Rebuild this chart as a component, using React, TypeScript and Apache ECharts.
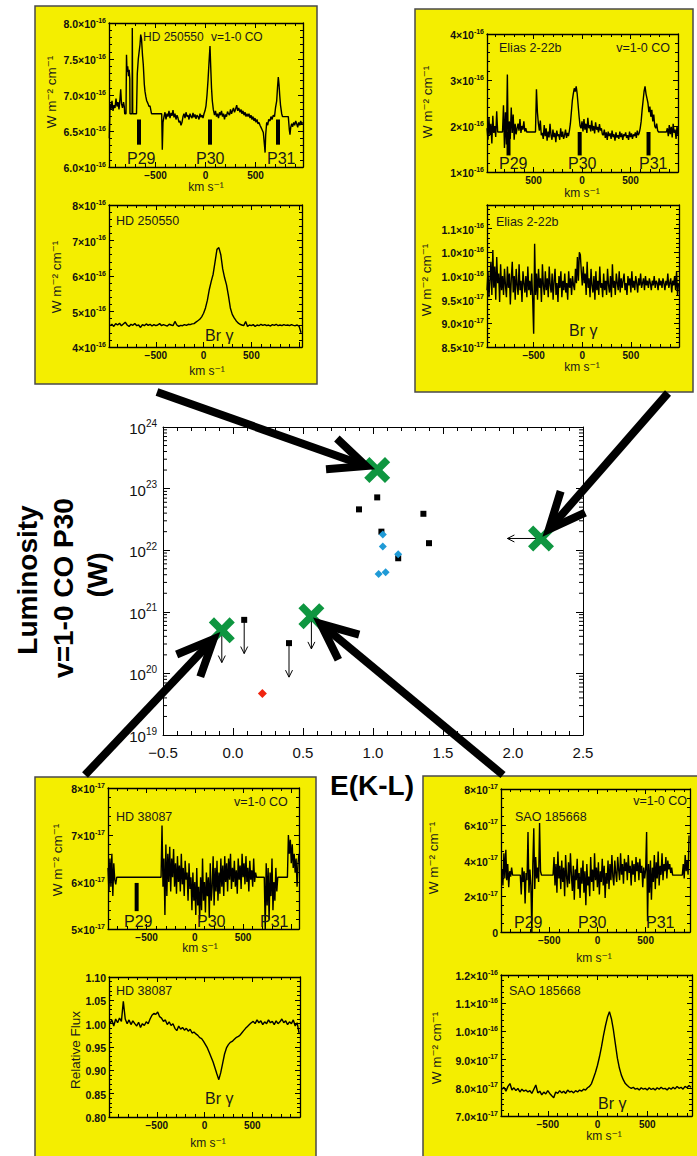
import React, { useEffect, useRef } from "react";
import * as echarts from "echarts";

// ---------------- main diagram data: E(K-L) vs luminosity (W) ----------------
const greenX = [[1.03, 2.0e23], [2.2, 1.55e22], [-0.08, 5.0e20], [0.56, 8.5e20]];
const blackPts = [[0.9, 4.6e22], [1.03, 7.2e22], [1.06, 2.0e22], [1.18, 7.4e21], [1.36, 3.9e22], [1.40, 1.3e22], [0.08, 7.4e20], [0.40, 3.1e20]];
const bluePts = [[1.07, 1.8e22], [1.07, 1.15e22], [1.04, 4.1e21], [1.09, 4.4e21], [1.18, 8.6e21]];
const redPts = [[0.21, 4.7e19]];
// upper limits: [x, y, arrow end y]
const upperLimits = [[-0.08, 5.0e20, 1.5e20], [0.56, 8.5e20, 2.5e20], [0.08, 7.4e20, 2.1e20], [0.40, 3.1e20, 8.7e19]];
// left limits: [x, y, arrow end x]
const leftLimits = [[2.2, 1.55e22, 1.96]];

// ---------------- spectra ----------------
// HD 250550 v=1-0 CO  [km/s, 1e-16 W m-2 cm-1]
const hd250550CO = [[-962,6.40],[-955,6.88],[-945,6.80],[-935,6.92],[-925,6.78],[-915,6.86],[-905,6.82],[-895,6.95],[-885,6.84],[-875,6.90],[-865,6.80],[-855,6.95],[-848,7.08],[-840,6.88],[-830,6.82],[-820,6.90],[-812,6.84],[-808,6.74],[-795,6.74],[-790,7.56],[-785,7.32],[-778,7.40],[-770,7.26],[-763,7.35],[-757,7.22],[-755,6.74],[-734,6.74],[-732,7.93],[-728,6.74],[-690,6.74],[-682,7.30],[-672,7.50],[-662,7.62],[-655,7.70],[-648,7.84],[-640,7.78],[-630,7.55],[-622,7.42],[-612,7.15],[-605,7.05],[-597,6.98],[-588,6.92],[-575,6.88],[-565,6.84],[-555,6.85],[-540,6.74],[-438,6.74],[-432,6.24],[-425,6.62],[-415,6.70],[-405,6.76],[-395,6.66],[-385,6.74],[-375,6.70],[-365,6.78],[-355,6.68],[-345,6.75],[-335,6.71],[-325,6.79],[-315,6.69],[-305,6.74],[-295,6.66],[-285,6.72],[-275,6.68],[-265,6.62],[-255,6.64],[-245,6.58],[-235,6.62],[-225,6.70],[-215,6.74],[-205,6.68],[-195,6.76],[-185,6.70],[-175,6.72],[-165,6.66],[-155,6.74],[-145,6.70],[-135,6.68],[-125,6.75],[-115,6.69],[-105,6.73],[-95,6.67],[-85,6.72],[-75,6.70],[-65,6.66],[-55,6.74],[-45,6.69],[-35,6.72],[-25,6.68],[-15,6.74],[-5,6.78],[5,6.85],[15,7.00],[25,7.20],[35,7.45],[45,7.68],[52,7.40],[60,7.10],[68,6.92],[78,6.80],[90,6.72],[100,6.78],[110,6.70],[120,6.74],[130,6.68],[140,6.76],[150,6.72],[160,6.78],[170,6.70],[180,6.74],[190,6.66],[200,6.73],[210,6.70],[220,6.77],[230,6.74],[240,6.72],[250,6.80],[260,6.74],[270,6.78],[280,6.82],[290,6.76],[300,6.80],[312,6.86],[322,6.78],[332,6.82],[345,6.76],[355,6.80],[365,6.74],[375,6.78],[385,6.72],[395,6.76],[405,6.70],[415,6.74],[425,6.70],[435,6.74],[445,6.68],[455,6.72],[465,6.66],[475,6.70],[485,6.64],[495,6.68],[505,6.62],[515,6.66],[525,6.60],[535,6.62],[545,6.58],[555,6.55],[565,6.52],[578,6.48],[590,6.30],[596,6.20],[602,6.45],[612,6.62],[622,6.58],[632,6.66],[645,6.64],[655,6.70],[665,6.66],[678,6.72],[690,6.70],[700,6.82],[712,6.92],[720,7.10],[728,7.25],[735,7.15],[742,7.00],[750,6.86],[762,6.74],[770,6.70],[828,6.70],[838,6.52],[845,6.45],[852,6.55],[862,6.60],[872,6.56],[882,6.62],[892,6.58],[902,6.64],[912,6.60],[922,6.55],[932,6.62],[942,6.58],[952,6.64],[962,6.60],[972,6.62]];
// line markers: [velocity, top, bottom]
const hd250550Bars = [[-665, 6.66, 6.31], [45, 6.66, 6.31], [725, 6.66, 6.31]];

// HD 250550 Br gamma, from -980 km/s in 20 km/s steps [1e-16]
const hd250550Brg = [4.60,4.64,4.58,4.66,4.62,4.67,4.60,4.65,4.70,4.62,
 4.58,4.64,4.61,4.66,4.60,4.62,4.55,4.63,4.60,4.65,
 4.61,4.64,4.59,4.63,4.60,4.62,4.66,4.60,4.63,4.61,
 4.59,4.64,4.62,4.60,4.72,4.62,4.58,4.61,4.60,4.63,
 4.61,4.64,4.63,4.65,4.66,4.70,4.74,4.78,4.85,4.95,
 5.10,5.32,5.62,5.85,6.05,6.40,6.75,6.80,6.60,6.20,
 5.95,5.75,5.45,5.10,4.92,4.82,4.74,4.68,4.64,4.62,
 4.60,4.72,4.58,4.62,4.60,4.63,4.58,4.62,4.60,4.64,
 4.61,4.63,4.60,4.62,4.59,4.63,4.61,4.64,4.60,4.62,
 4.60,4.63,4.61,4.62,4.60,4.63,4.61,4.60,4.62,4.58,
 4.40];

// Elias 2-22b v=1-0 CO, from -980 km/s in 10 km/s steps [1e-16]
const eliasCO = [1.95,1.70,2.18,1.80,2.05,1.62,2.22,1.85,2.00,1.76,
 2.32,
 1.87,1.87,1.87,1.87,1.87,1.87,
 2.45,1.52,2.30,1.60,3.12,1.40,2.10,1.72,2.40,1.85,2.25,1.70,2.05,1.82,1.95,
 2.05,1.90,2.15,1.85,2.00,1.92,2.10,1.88,1.95,
 1.87,1.87,1.87,1.87,1.87,1.87,1.87,1.87,1.87,1.87,
 2.80,2.30,2.05,1.90,2.12,1.80,
 1.85,1.72,2.02,1.78,1.95,1.68,1.88,1.75,2.05,1.80,1.70,1.92,1.76,1.85,1.65,1.90,1.78,1.82,1.70,1.95,1.76,1.88,1.72,1.80,1.92,1.74,1.85,1.78,
 1.90,2.05,2.30,2.55,2.70,2.82,2.75,2.86,2.70,2.45,2.20,2.00,
 1.95,2.10,1.88,2.15,1.92,2.05,1.85,2.18,1.95,2.02,1.88,2.12,1.90,2.00,1.84,2.08,1.92,1.98,1.86,2.04,1.90,1.95,1.82,
 1.80,1.92,1.74,1.86,1.70,1.88,1.78,1.84,1.72,1.90,1.76,1.82,1.68,1.86,1.75,1.80,1.72,1.88,1.76,1.84,1.70,1.82,1.78,1.86,1.74,1.80,1.70,1.88,1.76,1.84,1.72,1.82,1.78,1.86,1.74,1.90,1.80,1.85,
 1.95,2.10,2.35,2.55,2.75,2.86,2.70,2.60,2.50,2.30,2.42,2.20,2.35,2.10,2.25,2.00,1.95,2.05,1.90,1.87,
 1.87,1.87,1.87,1.87,1.87,1.87,1.87,1.87,
 1.95,1.78,2.02,1.82,1.98,1.75,2.05,1.85,1.92,1.72,2.00,1.80];
const eliasBars = [[-758, 1.87, 1.36], [-24, 1.87, 1.36], [686, 1.87, 1.36]];

// Elias 2-22b Br gamma, from -980 km/s in 10 km/s steps [1e-17]
const eliasBrg = [9.70,10.10,9.55,9.90,10.30,9.60,10.55,9.75,10.20,9.50,10.40,9.85,10.05,9.45,10.25,9.70,10.00,9.60,10.15,9.80,
 9.55,10.20,9.75,10.05,9.40,9.95,10.30,9.65,10.00,9.50,10.15,9.80,9.60,10.25,9.70,9.90,9.45,10.10,9.85,9.65,
 10.00,9.55,10.20,9.70,9.90,9.60,10.05,9.50,8.78,10.68,9.60,10.05,9.50,10.15,9.75,9.95,9.45,10.25,9.80,9.60,
 10.10,9.70,9.95,9.55,10.20,9.80,9.65,10.05,9.50,9.90,10.15,9.60,9.85,9.45,10.00,9.75,10.10,9.55,9.90,9.70,
 10.05,9.65,9.85,9.50,10.10,9.75,9.95,9.60,10.00,9.80,9.70,10.15,9.85,10.40,9.90,10.50,10.45,10.10,9.80,10.20,
 9.85,10.05,9.60,10.30,9.75,9.95,9.55,10.15,9.80,9.65,10.00,9.50,10.10,9.70,9.90,9.60,10.20,9.75,9.85,9.55,
 10.05,9.70,9.90,9.60,10.15,9.80,9.65,10.00,9.55,10.25,9.75,9.90,9.60,10.05,9.85,9.70,10.10,9.65,9.95,9.75,
 9.90,10.05,9.70,9.85,9.60,10.00,9.80,9.95,9.65,10.10,9.75,9.90,9.70,10.00,9.85,9.65,9.95,9.80,10.05,9.75,
 9.85,9.95,9.70,10.00,9.80,9.90,9.75,9.95,9.85,9.70,9.90,9.80,10.00,9.75,9.90,9.85,9.70,9.95,9.80,9.90,
 9.75,9.95,9.85,9.70,9.90,9.80,10.05,9.75,9.85,9.95,9.65,9.90,9.80,10.00,9.70,10.10,9.60,9.85];

// HD 38087 v=1-0 CO, from -900 km/s in 10 km/s steps [1e-17]
const hd38087CO = [6.30,5.80,6.50,5.90,6.60,5.70,6.40,6.05,5.95,
 6.1,6.1,6.1,6.1,6.1,6.1,6.1,6.1,6.1,6.1,6.1,6.1,6.1,6.1,6.1,6.1,6.1,6.1,6.1,6.1,6.1,6.1,6.1,6.1,6.1,6.1,6.1,6.1,6.1,6.1,6.1,6.1,6.1,6.1,6.1,6.1,6.1,6.1,6.1,6.1,6.1,6.1,6.1,6.1,6.1,6.1,6.1,
 7.20,5.90,6.50,5.30,6.80,5.70,6.60,6.00,6.75,5.80,6.50,6.10,6.70,5.90,6.40,5.75,6.55,6.00,6.35,5.80,
 6.60,5.95,6.30,5.70,6.45,6.05,6.20,5.60,6.40,5.85,6.10,5.40,6.20,5.60,6.00,5.30,6.30,5.50,5.90,5.20,
 6.10,5.40,6.50,5.60,6.00,5.35,6.20,5.70,6.10,5.25,6.40,5.60,5.90,6.55,5.50,6.30,5.80,6.45,5.60,6.20,
 5.75,6.50,5.90,6.35,5.70,6.55,6.00,6.40,5.80,6.50,6.05,6.60,5.85,6.30,6.00,6.45,5.90,6.25,5.75,6.50,
 6.05,6.35,5.85,6.60,6.10,6.40,5.95,6.55,6.00,6.30,5.80,6.45,6.05,6.25,5.90,6.50,6.00,6.20,6.10,
 6.1,6.1,6.1,6.1,6.1,6.1,6.1,6.1,
 5.00,6.40,5.50,6.30,5.20,6.20,5.70,6.50,5.40,6.00,5.60,6.30,5.80,6.10,
 6.1,6.1,6.1,6.1,6.1,6.1,6.1,6.1,6.1,6.1,
 7.00,6.60,6.90,6.40,6.80,6.30,6.60,6.20,6.50,5.90,6.40,6.60];
const hd38087Bars = [[-603, 5.98, 5.38]];

// HD 38087 Br gamma relative flux, from -990 km/s in 20 km/s steps
const hd38087Brg = [1.000,1.008,0.995,1.010,1.002,1.012,1.005,1.048,1.010,1.000,
 1.008,0.998,1.006,1.000,0.995,1.003,0.992,1.000,0.996,1.004,
 1.000,1.010,1.018,1.022,1.020,1.025,1.015,1.012,1.005,1.008,
 0.998,1.004,0.996,1.000,0.990,0.985,0.995,0.988,0.992,0.986,
 0.990,0.984,0.988,0.980,0.982,0.978,0.975,0.970,0.968,0.962,
 0.955,0.948,0.938,0.928,0.918,0.905,0.892,0.880,0.895,0.915,
 0.935,0.948,0.955,0.960,0.962,0.966,0.970,0.972,0.975,0.980,
 0.985,0.990,0.994,0.998,1.002,1.005,1.000,1.008,1.002,1.006,
 0.998,1.004,1.000,1.008,1.002,1.005,0.998,1.006,1.000,1.004,
 1.010,1.002,1.006,0.998,1.004,1.000,1.008,0.995,1.002,0.980];

// SAO 185668 v=1-0 CO, from -990 km/s in 10 km/s steps [1e-17]
const saoCO = [3.50,2.60,4.40,3.00,4.60,2.90,3.80,2.50,3.40,3.10,3.60,
 3.18,3.18,3.18,3.18,3.18,3.18,3.18,3.18,3.18,
 2.10,3.60,2.80,3.40,1.60,3.30,2.90,5.60,2.20,3.50,2.60,0.00,3.80,5.80,2.40,4.20,3.00,3.60,2.80,6.10,3.40,3.18,
 3.18,3.18,3.18,3.18,3.18,3.18,3.18,3.18,3.18,3.18,3.18,3.18,
 4.20,2.60,3.80,2.20,4.50,3.00,3.70,2.40,4.00,2.80,3.60,2.00,4.30,3.10,2.50,3.90,2.70,4.40,3.20,2.30,
 3.70,1.80,3.50,2.90,4.10,2.40,3.30,1.90,3.60,2.70,4.00,2.20,3.40,1.50,3.80,2.60,3.10,2.00,4.20,2.80,
 3.50,2.30,4.40,2.90,3.60,2.50,3.90,2.10,3.40,2.80,4.10,2.60,3.70,1.90,3.30,2.70,4.00,2.40,3.80,2.90,
 4.30,3.10,2.60,4.00,3.30,2.80,4.20,3.50,2.90,4.40,3.20,3.80,2.70,4.10,3.40,3.90,2.90,4.30,3.30,3.70,
 2.60,4.00,3.20,3.80,2.80,4.20,3.40,3.90,2.90,4.10,3.30,3.70,2.50,3.60,3.00,3.50,
 5.60,0.60,3.80,2.20,4.00,1.80,3.60,2.80,4.30,2.40,3.90,3.00,4.50,2.60,3.70,3.20,4.40,2.90,3.80,3.40,4.20,3.00,4.00,3.50,3.80,3.30,3.60,3.18,
 3.18,3.18,3.18,3.18,3.18,3.18,3.18,3.18,3.18,3.18,
 3.80,3.00,4.30,3.40,4.00,3.20,5.40];

// SAO 185668 Br gamma, from -960 km/s in 20 km/s steps [1e-17]
const saoBrg = [7.95,8.02,7.88,8.05,8.15,7.92,8.00,7.90,7.98,7.85,
 7.95,7.88,7.92,7.85,7.90,7.80,7.95,8.10,7.82,7.88,
 7.75,7.85,7.78,7.90,7.80,7.72,7.65,7.85,7.80,7.90,
 7.82,7.88,7.80,7.92,7.85,7.88,7.82,7.90,7.85,7.92,
 7.88,7.95,7.92,8.00,8.05,8.15,8.35,8.55,8.80,9.10,
 9.45,9.85,10.20,10.50,10.70,10.45,10.05,9.55,9.05,8.70,
 8.45,8.28,8.15,8.08,8.02,7.98,8.02,7.95,7.98,7.92,
 8.00,7.95,7.98,7.92,8.00,7.94,7.98,7.92,8.00,7.95,
 8.02,7.96,7.98,7.92,8.00,7.95,8.02,7.96,8.05,7.98,
 8.02,7.95,8.05,8.00,8.08,8.02];

// ---------------- helpers ----------------
const FONT = "'Liberation Sans', 'DejaVu Sans', Arial, sans-serif";
const YELLOW = "#f4ee00";
const grid = (start: number, step: number, arr: number[]) => arr.map((v, i) => [start + i * step, v]);
const sci = (m: string, e: string) => `{m|${m}×10}{e|${e}}`;
const SUP = "\u207B";
const WTITLE = `W m${SUP}\u00B2 cm${SUP}\u00B9`;
const KMS = `km s${SUP}\u00B9`;

const subPlots = [
  { box: [109, 23, 194, 144], xr: [-965, 975], yr: [6, 8, 0.5], ymin: 5, yfmt: (v: number) => sci(v.toFixed(1), "-16"), line: hd250550CO, bars: hd250550Bars },
  { box: [109, 205, 193, 142], xr: [-990, 1030], yr: [4, 8, 1], ymin: 5, yfmt: (v: number) => sci(v.toFixed(0), "-16"), line: grid(-980, 20, hd250550Brg) },
  { box: [487, 34, 191, 138], xr: [-980, 990], yr: [1, 4, 1], ymin: 5, yfmt: (v: number) => sci(v.toFixed(0), "-16"), line: grid(-980, 10, eliasCO), bars: eliasBars, absX: true },
  { box: [487, 205, 192, 142], xr: [-980, 995], yr: [8.5, 11.5, 0.5], ymin: 5, yfmt: (v: number) => v > 11.4 ? "" : v < 9.99 ? sci(v.toFixed(1), "-17") : sci((Math.floor(v + 1e-6) / 10).toFixed(1), "-16"), line: grid(-980, 10, eliasBrg) },
  { box: [108, 788, 191, 141], xr: [-900, 1080], yr: [5, 8, 1], ymin: 5, yfmt: (v: number) => sci(v.toFixed(0), "-17"), line: grid(-900, 10, hd38087CO), bars: hd38087Bars },
  { box: [109, 977, 191, 140], xr: [-1000, 1000], yr: [0.8, 1.1, 0.05], ymin: 5, yfmt: (v: number) => `{m|${v.toFixed(2)}}`, line: grid(-990, 20, hd38087Brg) },
  { box: [501, 789, 189, 143], xr: [-1000, 960], yr: [0, 8, 2], ymin: 4, yfmt: (v: number) => v === 0 ? "{m|0}" : sci(v.toFixed(0), "-17"), line: grid(-990, 10, saoCO) },
  { box: [501, 975, 191, 141], xr: [-970, 950], yr: [7, 12, 1], ymin: 5, yfmt: (v: number) => v < 9.99 ? sci(v.toFixed(1), "-17") : sci((v / 10).toFixed(1), "-16"), line: grid(-960, 20, saoBrg) },
];

const panels = [[35, 6, 282, 378], [415, 9, 278, 383], [35, 777, 281, 420], [423, 776, 290, 420]];

type T = [string, number, number, number?, string?, number?];
// [text, x, y, fontSize, align, rotate]
const YT = 13.5;
const KM = 12;
const labels: T[] = [
  ["HD 250550", 143, 37, 12, "left"], ["v=1-0 CO", 211, 37, 12, "left"],
  ["P29", 127, 158, 16, "left"], ["P30", 196, 158, 16, "left"], ["P31", 267, 158, 16, "left"],
  [WTITLE, 51, 92, YT, "center", 1], [KMS, 206, 187, KM, "center"],
  ["HD 250550", 116, 221, 12.5, "left"], ["Br γ", 205, 335, 16, "left"],
  [WTITLE, 56, 277, YT, "center", 1], [KMS, 207, 371, KM, "center"],
  ["Elias 2-22b", 499, 48, 12.5, "left"], ["v=1-0 CO", 670, 48, 12.5, "right"],
  ["P29", 499, 163, 16, "left"], ["P30", 568, 163, 16, "left"], ["P31", 639, 163, 16, "left"],
  [WTITLE, 427, 102, YT, "center", 1], [KMS, 582, 193, KM, "center"],
  ["Elias 2-22b", 496, 222, 12.5, "left"], ["Br γ", 569, 330, 16, "left"],
  [WTITLE, 426, 280, YT, "center", 1], [KMS, 582, 367, KM, "center"],
  ["HD 38087", 116, 817, 12.5, "left"], ["v=1-0 CO", 234, 802, 12.5, "left"],
  ["P29", 124, 921, 16, "left"], ["P30", 197, 921, 16, "left"], ["P31", 260, 921, 16, "left"],
  [WTITLE, 57, 860, YT, "center", 1], [KMS, 200, 948, KM, "center"],
  ["HD 38087", 116, 991, 12.5, "left"], ["Br γ", 205, 1098, 16, "left"],
  ["Relative Flux", 75, 1050, YT, "center", 1], [KMS, 208, 1143, KM, "center"],
  ["SAO 185668", 515, 817, 12.5, "left"], ["v=1-0 CO", 687, 801, 12.5, "right"],
  ["P29", 514, 922, 16, "left"], ["P30", 578, 922, 16, "left"], ["P31", 646, 922, 16, "left"],
  [WTITLE, 433, 858, YT, "center", 1], [KMS, 594, 958, KM, "center"],
  ["SAO 185668", 509, 991, 12.5, "left"], ["Br γ", 598, 1103, 16, "left"],
  [WTITLE, 436, 1048, YT, "center", 1], [KMS, 604, 1136, KM, "center"],
];

const bigTitles: T[] = [
  ["E(K-L)", 372, 785, 28, "center"],
  ["Luminosity", 27, 580, 28, "center", 1],
  ["v=1-0 CO P30", 63, 588, 28, "center", 1],
  ["(W)", 97, 575, 28, "center", 1],
];

// arrow start points (panel edges) paired with target green X index
const arrowStarts = [[157, 392, 0], [668, 393, 1], [85, 775, 2], [503, 775, 3]];

function buildOption() {
  const grids: any[] = [];
  const xAxis: any[] = [];
  const yAxis: any[] = [];
  const series: any[] = [];
  const lineStyle = { color: "#000", width: 1 };

  // ---- main grid ----
  grids.push({ left: 163, top: 427, width: 420, height: 308, show: false });
  const mx = {
    type: "value", gridIndex: 0, min: -0.5, max: 2.5, interval: 0.5,
    splitLine: { show: false },
    axisLine: { show: true, onZero: false, lineStyle },
    axisTick: { inside: true, length: 7, lineStyle },
    minorTick: { show: true, splitNumber: 5, length: 4, lineStyle },
  };
  xAxis.push({ ...mx, position: "bottom", axisLabel: { margin: 10, fontSize: 15, color: "#111", fontFamily: FONT, formatter: (v: number) => v.toFixed(1).replace("-", "\u2212") } });
  xAxis.push({ ...mx, position: "top", axisLabel: { show: false } });
  const my = {
    type: "log", gridIndex: 0, min: 1e19, max: 1e24, logBase: 10, splitNumber: 5,
    splitLine: { show: false },
    axisLine: { show: true, onZero: false, lineStyle },
    axisTick: { inside: true, length: 7, lineStyle },
  };
  yAxis.push({
    ...my, position: "left",
    axisLabel: {
      margin: 6, color: "#111", fontFamily: FONT,
      formatter: (v: number) => `{b|10}{s|${Math.round(Math.log10(v))}}`,
      rich: { b: { fontSize: 15, lineHeight: 18, verticalAlign: "bottom", fontFamily: FONT, color: "#111" }, s: { fontSize: 10, lineHeight: 10, verticalAlign: "top", fontFamily: FONT, color: "#111" } },
    },
  });
  yAxis.push({ ...my, position: "right", axisLabel: { show: false } });

  // minor log ticks
  const minor: number[][] = [];
  for (let d = 19; d < 24; d++) for (let k = 2; k <= 9; k++) minor.push([-0.5, k * Math.pow(10, d)]);
  series.push({
    type: "custom", xAxisIndex: 0, yAxisIndex: 0, data: minor, z: 1, silent: true,
    renderItem: (p: any, api: any) => {
      const v = api.value(1);
      const l = api.coord([-0.5, v]);
      const r = api.coord([2.5, v]);
      return {
        type: "group", children: [
          { type: "line", shape: { x1: l[0], y1: l[1], x2: l[0] + 4, y2: l[1] }, style: { stroke: "#000", lineWidth: 1 } },
          { type: "line", shape: { x1: r[0] - 4, y1: r[1], x2: r[0], y2: r[1] }, style: { stroke: "#000", lineWidth: 1 } },
        ],
      };
    },
  });
  series.push({
    type: "custom", xAxisIndex: 0, yAxisIndex: 0, data: upperLimits, z: 3, silent: true,
    renderItem: (p: any, api: any) => {
      const a = api.coord([api.value(0), api.value(1)]);
      const b = api.coord([api.value(0), api.value(2)]);
      return {
        type: "group", children: [
          { type: "line", shape: { x1: a[0], y1: a[1], x2: b[0], y2: b[1] }, style: { stroke: "#000", lineWidth: 1 } },
          { type: "polyline", shape: { points: [[b[0] - 3.5, b[1] - 7], [b[0], b[1]], [b[0] + 3.5, b[1] - 7]] }, style: { stroke: "#000", fill: "none", lineWidth: 1 } },
        ],
      };
    },
  });
  series.push({
    type: "custom", xAxisIndex: 0, yAxisIndex: 0, data: leftLimits, z: 3, silent: true,
    renderItem: (p: any, api: any) => {
      const a = api.coord([api.value(0), api.value(1)]);
      const b = api.coord([api.value(2), api.value(1)]);
      return {
        type: "group", children: [
          { type: "line", shape: { x1: a[0], y1: a[1], x2: b[0], y2: b[1] }, style: { stroke: "#000", lineWidth: 1 } },
          { type: "polyline", shape: { points: [[b[0] + 7, b[1] - 3.5], [b[0], b[1]], [b[0] + 7, b[1] + 3.5]] }, style: { stroke: "#000", fill: "none", lineWidth: 1 } },
        ],
      };
    },
  });
  series.push({ type: "scatter", xAxisIndex: 0, yAxisIndex: 0, data: blackPts, symbol: "rect", symbolSize: 6, itemStyle: { color: "#000", opacity: 1 }, z: 4 });
  series.push({ type: "scatter", xAxisIndex: 0, yAxisIndex: 0, data: bluePts, symbol: "diamond", symbolSize: 8, itemStyle: { color: "#1f9ad6", opacity: 1 }, z: 5 });
  series.push({ type: "scatter", xAxisIndex: 0, yAxisIndex: 0, data: redPts, symbol: "diamond", symbolSize: 9, itemStyle: { color: "#f0240f", opacity: 1 }, z: 5 });
  series.push({
    type: "scatter", xAxisIndex: 0, yAxisIndex: 0, data: greenX,
    symbol: "path://M0 2 L2 0 L5 3 L8 0 L10 2 L7 5 L10 8 L8 10 L5 7 L2 10 L0 8 L3 5 Z",
    symbolSize: 26, itemStyle: { color: "#0e9640", opacity: 1 }, z: 6,
  });

  // ---- sub plots ----
  subPlots.forEach((sp: any, k: number) => {
    const gi = k + 1;
    const [l, t, w, h] = sp.box;
    grids.push({ left: l, top: t, width: w, height: h, show: false });
    const sl = { color: "#000", width: 1.3 };
    const bx = {
      type: "value", gridIndex: gi, min: sp.xr[0], max: sp.xr[1], splitNumber: 4,
      splitLine: { show: false },
      axisLine: { show: true, onZero: false, lineStyle: sl },
      axisTick: { inside: true, length: 5, lineStyle: { color: "#000" } },
      minorTick: { show: true, splitNumber: 5, length: 3, lineStyle: { color: "#000" } },
    };
    xAxis.push({
      ...bx, position: "bottom",
      axisLabel: {
        margin: 3, fontSize: 10, fontWeight: "bold", color: "#111", fontFamily: FONT,
        showMinLabel: false, showMaxLabel: false,
        formatter: (v: number) => {
          if (Math.abs(v) > 600) return "";
          const s = String(Math.round(Math.abs(v)));
          return v < 0 && !sp.absX ? "\u2212" + s : s;
        },
      },
    });
    xAxis.push({ ...bx, position: "top", axisLabel: { show: false } });
    const by = {
      type: "value", gridIndex: gi, min: sp.yr[0], max: sp.yr[1], interval: sp.yr[2],
      splitLine: { show: false },
      axisLine: { show: true, onZero: false, lineStyle: sl },
      axisTick: { inside: true, length: 5, lineStyle: { color: "#000" } },
      minorTick: { show: true, splitNumber: sp.ymin, length: 3, lineStyle: { color: "#000" } },
    };
    yAxis.push({
      ...by, position: "left",
      axisLabel: {
        margin: 3, color: "#111", fontFamily: FONT, formatter: sp.yfmt,
        rich: {
          m: { fontSize: 10.5, fontWeight: "bold", fontFamily: FONT, color: "#111", lineHeight: 13, verticalAlign: "bottom" },
          e: { fontSize: 7, fontWeight: "bold", fontFamily: FONT, color: "#111", lineHeight: 7, verticalAlign: "top" },
        },
      },
    });
    yAxis.push({ ...by, position: "right", axisLabel: { show: false } });

    series.push({
      type: "line", xAxisIndex: 2 * gi, yAxisIndex: 2 * gi, data: sp.line,
      showSymbol: false, symbol: "none", lineStyle: { color: "#000", width: 1.4 }, z: 3, silent: true,
    });
    if (sp.bars) {
      series.push({
        type: "custom", xAxisIndex: 2 * gi, yAxisIndex: 2 * gi, data: sp.bars, z: 4, silent: true,
        renderItem: (p: any, api: any) => {
          const a = api.coord([api.value(0), api.value(1)]);
          const b = api.coord([api.value(0), api.value(2)]);
          return { type: "rect", shape: { x: a[0] - 2, y: a[1], width: 4, height: b[1] - a[1] }, style: { fill: "#000" } };
        },
      });
    }
  });

  return { animation: false, backgroundColor: "#fff", textStyle: { fontFamily: FONT }, grid: grids, xAxis, yAxis, series };
}

function textEl(t: T, bold: boolean, z: number) {
  const [text, x, y, fs, align, rot] = t;
  return {
    type: "text", x, y, z, rotation: rot ? Math.PI / 2 : 0, silent: true,
    style: {
      text, fontSize: fs || 12, fontWeight: bold ? "bold" : "normal", fontFamily: FONT,
      fill: bold ? "#000" : "#1a1a1a", align: align || "left", verticalAlign: "middle",
    },
  };
}

function arrowEls(sx: number, sy: number, tx: number, ty: number) {
  const ang = Math.atan2(sy - ty, sx - tx);
  const L = 40;
  const a = (24 * Math.PI) / 180;
  const p1 = [tx + L * Math.cos(ang - a), ty + L * Math.sin(ang - a)];
  const p2 = [tx + L * Math.cos(ang + a), ty + L * Math.sin(ang + a)];
  const ex = tx + 6 * Math.cos(ang);
  const ey = ty + 6 * Math.sin(ang);
  return [
    { type: "line", z: 20, silent: true, shape: { x1: sx, y1: sy, x2: ex, y2: ey }, style: { stroke: "#000", lineWidth: 8 } },
    { type: "polyline", z: 20, silent: true, shape: { points: [p1, [tx, ty], p2] }, style: { stroke: "#000", fill: "none", lineWidth: 8, lineJoin: "miter" } },
  ];
}

export default function App() {
  const ref = useRef<HTMLDivElement>(null);
  useEffect(() => {
    const chart = echarts.init(ref.current as HTMLDivElement, null, { renderer: "svg", width: 697, height: 1156 });
    chart.setOption(buildOption());
    const arrows: any[] = [];
    arrowStarts.forEach(([sx, sy, idx]) => {
      const c = chart.convertToPixel({ xAxisIndex: 0, yAxisIndex: 0 } as any, greenX[idx] as any) as any;
      const ang = Math.atan2(sy - c[1], sx - c[0]);
      const tx = c[0] + 12 * Math.cos(ang);
      const ty = c[1] + 12 * Math.sin(ang);
      arrows.push(...arrowEls(sx, sy, tx, ty));
    });
    const elements: any[] = [
      ...panels.map(([x, y, w, h]) => ({ type: "rect", z: -10, silent: true, shape: { x, y, width: w, height: h }, style: { fill: YELLOW, stroke: "#4a4a4a", lineWidth: 1.5 } })),
      ...labels.map((t) => textEl(t, false, 10)),
      ...bigTitles.map((t) => textEl(t, true, 10)),
      ...arrows,
    ];
    chart.setOption({ graphic: { elements } });
    return () => chart.dispose();
  }, []);
  return <div ref={ref} style={{ position: "absolute", left: 0, top: 0, width: 697, height: 1156 }} />;
}
